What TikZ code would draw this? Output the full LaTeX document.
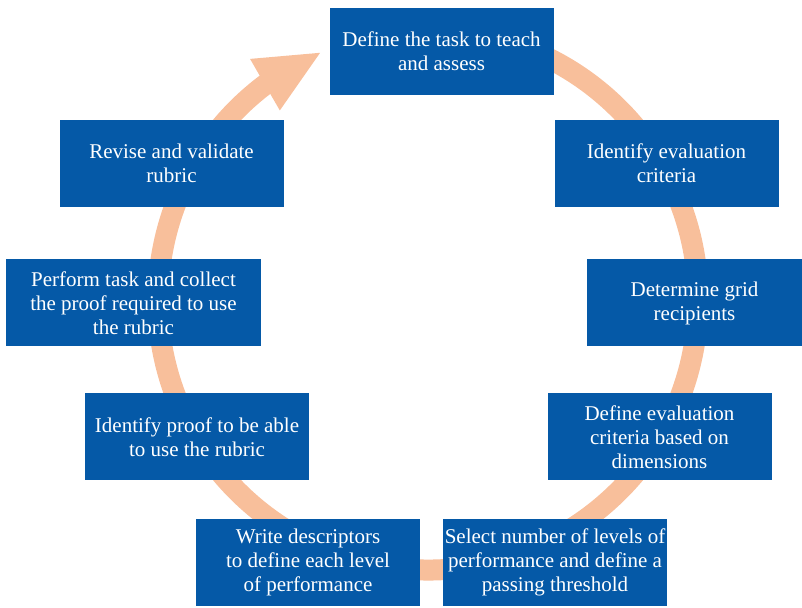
\documentclass[tikz,border=0pt]{standalone}
\usepackage{fontspec}
\setmainfont{Liberation Serif}
\usepackage{tikz}
\usetikzlibrary{arrows.meta}
\usetikzlibrary{bending}
\tikzset{stage/.style = {fill=mblue, text=white, minimum width=224pt, minimum height=87pt,
                         align=center, inner sep=2pt, font=\fontsize{21}{24}\selectfont},
         ring/.style = {draw=mpeach, line width=21pt,
                        -{Triangle[width=54pt, length=66pt, flex]}}}
\definecolor{mblue}{rgb}{0.02, 0.35, 0.655}
\definecolor{mpeach}{rgb}{0.973, 0.749, 0.608}

\begin{document}
\begin{tikzpicture}[x=1pt, y=1pt]
    \useasboundingbox (0, 0) rectangle (802, 607);
    \coordinate (hub) at (428, 307);
    \draw [ring] ([shift={(80:270)}]hub) arc [start angle=80, end angle=-246.9, radius=270];
    \node [stage] (define) at (441.5, 555.5) {Define the task to teach\\and assess};
    \node [stage] (criteria) at (666.5, 443.5) {Identify evaluation\\criteria};
    \node [stage, minimum width=215pt] (grid) at (694.5, 304) {Determine grid\\recipients};
    \node [stage] (dims) at (659.5, 170) {Define evaluation\\criteria based on\\dimensions};
    \node [stage] (levels) at (555, 44.5) {Select number of levels of\\performance and define a\\passing threshold};
    \node [stage] (descr) at (308, 44.5) {Write descriptors\\to define each level\\of performance};
    \node [stage] (proof) at (197, 170) {Identify proof to be able\\to use the rubric};
    \node [stage, minimum width=255pt] (perform) at (133.5, 304) {Perform task and collect\\the proof required to use\\the rubric};
    \node [stage] (revise) at (171.5, 443.5) {Revise and validate\\rubric};
  \end{tikzpicture}
\end{document}
